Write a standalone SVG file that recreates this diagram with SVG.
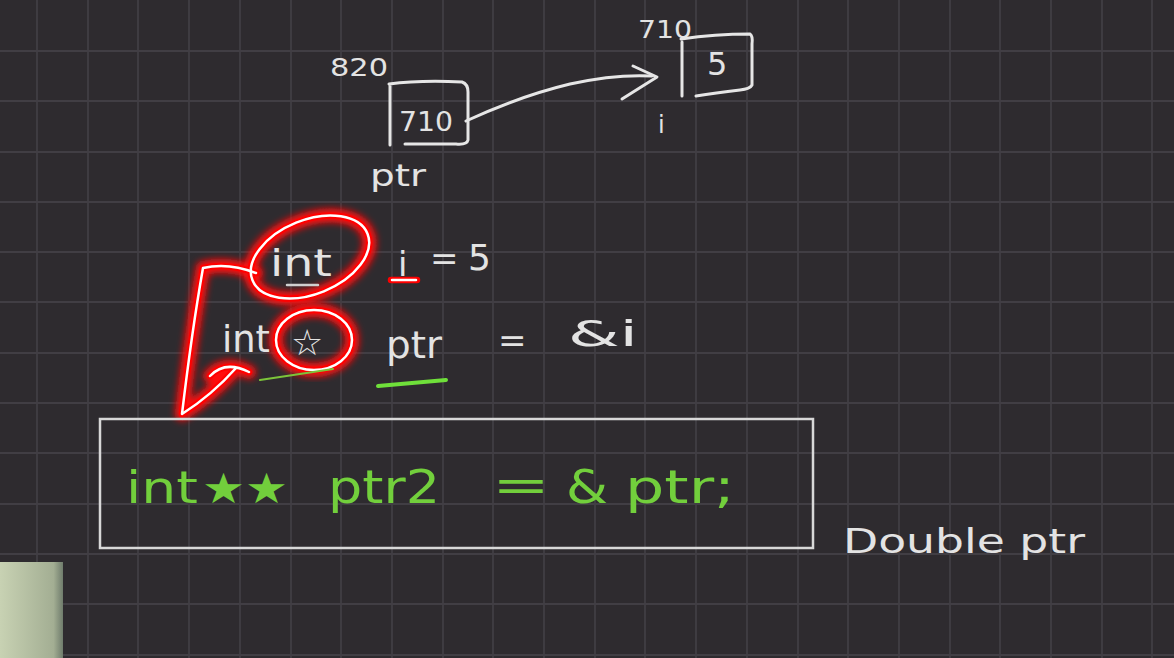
<svg xmlns="http://www.w3.org/2000/svg" width="1174" height="658" viewBox="0 0 1174 658">
<defs>
<style>
.ink{fill:none;stroke:#e6e6e6;stroke-width:3;stroke-linecap:round;stroke-linejoin:round}
.t{font-family:"DejaVu Sans",sans-serif;fill:#e3e3e3}
.g{font-family:"DejaVu Sans",sans-serif;fill:#72cf3c}
.glow{fill:none;stroke:#ff1010;stroke-width:14;stroke-linecap:round;stroke-linejoin:round;filter:url(#blur)}
.red{fill:none;stroke:#ff0000;stroke-width:6.5;stroke-linecap:round;stroke-linejoin:round}
.core{fill:none;stroke:#ffffff;stroke-width:2.5;stroke-linecap:round;stroke-linejoin:round}
</style>
<filter id="blur" x="-20%" y="-20%" width="140%" height="140%"><feGaussianBlur stdDeviation="3.5"/></filter>
<linearGradient id="pane" x1="0" y1="0" x2="1" y2="0">
<stop offset="0" stop-color="#c8d2b3"/><stop offset="0.85" stop-color="#a3ae93"/><stop offset="1" stop-color="#6f7c6c"/>
</linearGradient>
</defs>
<rect width="1174" height="658" fill="#2e2b2f"/>
<g id="grid" stroke="#413e44" stroke-width="1.8" fill="none">
<path d="M37 0V658M88 0V658M138 0V658M189 0V658M240 0V658M291 0V658M341 0V658M392 0V658M443 0V658M493 0V658M544 0V658M595 0V658M645 0V658M696 0V658M747 0V658M798 0V658M848 0V658M899 0V658M950 0V658M1000 0V658M1051 0V658M1102 0V658M1152 0V658"/>
<path d="M0 51H1174M0 101H1174M0 152H1174M0 202H1174M0 252H1174M0 302H1174M0 353H1174M0 403H1174M0 453H1174M0 504H1174M0 554H1174M0 604H1174M0 655H1174"/>
</g>

<g id="node-ptr">
<text class="t" x="330" y="76" font-size="25" textLength="58" lengthAdjust="spacingAndGlyphs">820</text>
<path class="ink" d="M390 86V145M389 84Q420 80 462 82Q468 84 468 92V140Q467 145 456 144H405"/>
<text class="t" x="399" y="131" font-size="26" textLength="54" lengthAdjust="spacingAndGlyphs">710</text>
<text class="t" x="370" y="186" font-size="30" textLength="56" lengthAdjust="spacingAndGlyphs">ptr</text>
</g>

<g id="node-i">
<text class="t" x="638" y="38" font-size="24" textLength="54" lengthAdjust="spacingAndGlyphs">710</text>
<path class="ink" d="M682 42V96M681 39Q715 34 750 34Q753 36 752 44V85Q750 89 740 90Q715 93 696 96"/>
<text class="t" x="707" y="75" font-size="32">5</text>
<text class="t" x="658" y="133" font-size="24">i</text>
</g>

<g id="connectors">
<path class="ink" d="M466 121Q520 96 570 84Q615 74 652 76"/>
<path class="ink" d="M633 66L657 77L622 99"/>
<g id="loop-arrow">
<path class="glow" d="M256 273Q228 262 203 268Q192 330 182 414Q212 395 236 368M210 376Q225 360 249 372"/>
<ellipse class="glow" cx="310" cy="257" rx="62" ry="37" transform="rotate(-22 310 257)"/>
<ellipse class="glow" cx="314" cy="340" rx="38" ry="30"/>
<path class="glow" d="M391 280H417"/>
<path class="red" d="M256 273Q228 262 203 268Q192 330 182 414Q212 395 236 368M210 376Q225 360 249 372"/>
<ellipse class="red" cx="310" cy="257" rx="62" ry="37" transform="rotate(-22 310 257)"/>
<ellipse class="red" cx="314" cy="340" rx="38" ry="30"/>
<path class="red" d="M391 280H417"/>
<path class="core" d="M256 273Q228 262 203 268Q192 330 182 414Q212 395 236 368M210 376Q225 360 249 372"/>
<ellipse class="core" cx="310" cy="257" rx="62" ry="37" transform="rotate(-22 310 257)"/>
<ellipse class="core" cx="314" cy="340" rx="38" ry="30"/>
<path class="core" d="M392 280H416"/>
</g>
</g>

<g id="line-int-i">
<text class="t" x="270" y="276" font-size="38" textLength="62" lengthAdjust="spacingAndGlyphs">int</text>
<path d="M287 285H318" stroke="#cfcfcf" stroke-width="2.5" stroke-linecap="round"/>
<text class="t" x="398" y="276" font-size="34">i</text>
<text class="t" x="430" y="270" font-size="34">=</text>
<text class="t" x="468" y="270" font-size="36">5</text>
</g>

<g id="line-int-ptr">
<text class="t" x="222" y="352" font-size="38" textLength="48" lengthAdjust="spacingAndGlyphs">int</text>
<text class="t" x="291" y="355" font-size="36">☆</text>
<path d="M260 380L333 369" stroke="#7cc43a" stroke-width="2" stroke-linecap="round"/>
<text class="t" x="386" y="358" font-size="38" textLength="56" lengthAdjust="spacingAndGlyphs">ptr</text>
<path d="M378 386L446 380" stroke="#6fe03a" stroke-width="4" stroke-linecap="round"/>
<text class="t" x="498" y="352" font-size="34">=</text>
<text class="t" x="568" y="346" font-size="36" textLength="70" lengthAdjust="spacingAndGlyphs">&amp;i</text>
</g>

<g id="node-code">
<rect x="100" y="419" width="713" height="129" fill="none" stroke="#d8d8d8" stroke-width="2.5"/>
<text class="g" x="126" y="503" font-size="44" textLength="72" lengthAdjust="spacingAndGlyphs">int</text>
<text class="g" x="202" y="503" font-size="42" textLength="86" lengthAdjust="spacingAndGlyphs">★★</text>
<text class="g" x="328" y="503" font-size="46" textLength="112" lengthAdjust="spacingAndGlyphs">ptr2</text>
<text class="g" x="492" y="501" font-size="46" textLength="58" lengthAdjust="spacingAndGlyphs">=</text>
<text class="g" x="566" y="503" font-size="46" textLength="42" lengthAdjust="spacingAndGlyphs">&amp;</text>
<text class="g" x="625" y="503" font-size="46" textLength="110" lengthAdjust="spacingAndGlyphs">ptr;</text>
</g>

<g id="note">
<text class="t" x="843" y="553" font-size="34" textLength="242" lengthAdjust="spacingAndGlyphs">Double ptr</text>
</g>

<rect x="0" y="562" width="63" height="96" fill="url(#pane)"/>
</svg>
